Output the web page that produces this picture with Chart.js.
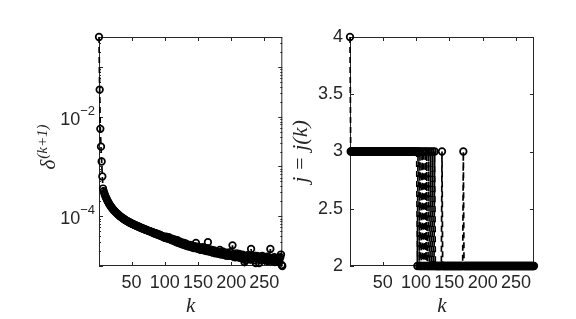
<!DOCTYPE html>
<html>
<head>
<meta charset="utf-8">
<script src="https://cdn.jsdelivr.net/npm/chart.js@4.4.0/dist/chart.umd.min.js"></script>
<style>
  html, body { margin: 0; padding: 0; background: #fff; }
  #wrap { position: relative; width: 576px; height: 319px; }
  .panel { position: absolute; top: 0; width: 288px; height: 319px; }
</style>
</head>
<body>
<div id="wrap">
  <div class="panel" style="left:0"><canvas id="deltaChart" width="288" height="319"></canvas></div>
  <div class="panel" style="left:288px"><canvas id="indexChart" width="288" height="319"></canvas></div>
</div>
<script>
// delta^(k+1) per iteration k = 1..277 (log scale)
const deltaValues = [
  0.4, 0.035, 0.0057, 0.0025, 0.00126, 6.3e-4, 3.6e-4, 3.2e-4, 2.9e-4, 2.65e-4,
  2.45e-4, 2.3e-4, 2.15e-4, 2.02e-4, 1.9e-4, 1.8e-4, 1.71e-4, 1.63e-4, 1.56e-4, 1.5e-4,
  1.44e-4, 1.38e-4, 1.33e-4, 1.29e-4, 1.25e-4, 1.21e-4, 1.17e-4, 1.14e-4, 1.11e-4, 1.08e-4,
  1.05e-4, 1.02e-4, 9.95e-5, 9.7e-5, 9.5e-5, 9.3e-5, 9.1e-5, 8.9e-5, 8.7e-5, 8.5e-5,
  8.35e-5, 8.2e-5, 8.05e-5, 7.9e-5, 7.8e-5, 7.65e-5, 7.5e-5, 7.4e-5, 7.3e-5, 7.15e-5,
  7.05e-5, 6.95e-5, 6.85e-5, 6.75e-5, 6.65e-5, 6.55e-5, 6.5e-5, 6.4e-5, 6.3e-5, 6.2e-5,
  6.15e-5, 6.05e-5, 5.95e-5, 5.9e-5, 5.8e-5, 5.75e-5, 5.65e-5, 5.6e-5, 5.5e-5, 5.45e-5,
  5.4e-5, 5.3e-5, 5.3e-5, 5.2e-5, 5.1e-5, 5.1e-5, 5.0e-5, 4.95e-5, 4.9e-5, 4.85e-5,
  4.75e-5, 4.8e-5, 4.6e-5, 4.65e-5, 4.5e-5, 4.55e-5, 4.4e-5, 4.45e-5, 4.3e-5, 4.35e-5,
  4.2e-5, 4.25e-5, 4.1e-5, 4.15e-5, 4.0e-5, 3.95e-5, 4.0e-5, 3.8e-5, 3.85e-5, 3.7e-5,
  3.75e-5, 3.9e-5, 3.6e-5, 3.7e-5, 3.55e-5, 3.8e-5, 3.5e-5, 3.45e-5, 3.6e-5, 3.4e-5,
  3.3e-5, 3.5e-5, 3.25e-5, 3.2e-5, 3.4e-5, 3.1e-5, 3.15e-5, 3.0e-5, 3.3e-5, 2.95e-5,
  3.0e-5, 2.9e-5, 3.1e-5, 2.8e-5, 2.85e-5, 2.95e-5, 2.7e-5, 2.75e-5, 2.9e-5, 2.65e-5,
  2.6e-5, 2.8e-5, 2.55e-5, 2.7e-5, 2.5e-5, 2.6e-5, 2.45e-5, 2.65e-5, 2.5e-5, 2.4e-5,
  2.55e-5, 2.35e-5, 2.45e-5, 2.3e-5, 2.5e-5, 2.4e-5, 2.9e-5, 2.3e-5, 2.25e-5, 2.45e-5,
  2.2e-5, 2.35e-5, 2.15e-5, 2.3e-5, 2.1e-5, 2.25e-5, 2.4e-5, 2.1e-5, 2.2e-5, 2.05e-5,
  2.3e-5, 2.1e-5, 2.0e-5, 2.2e-5, 3.0e-5, 2.05e-5, 1.95e-5, 2.15e-5, 2.0e-5, 1.9e-5,
  2.1e-5, 1.95e-5, 1.85e-5, 2.05e-5, 1.9e-5, 1.8e-5, 2.0e-5, 1.85e-5, 1.95e-5, 1.8e-5,
  1.75e-5, 1.9e-5, 2.1e-5, 1.8e-5, 1.7e-5, 1.85e-5, 1.75e-5, 1.95e-5, 1.7e-5, 1.65e-5,
  1.8e-5, 1.7e-5, 1.6e-5, 1.85e-5, 1.65e-5, 1.75e-5, 1.6e-5, 1.7e-5, 1.9e-5, 1.6e-5,
  1.7e-5, 2.6e-5, 1.55e-5, 1.75e-5, 1.6e-5, 1.5e-5, 1.7e-5, 1.8e-5, 1.55e-5, 1.65e-5,
  1.5e-5, 1.75e-5, 1.6e-5, 1.45e-5, 1.65e-5, 1.55e-5, 1.7e-5, 1.5e-5, 1.4e-5, 1.2e-5,
  1.6e-5, 1.3e-5, 1.5e-5, 1.45e-5, 1.65e-5, 1.4e-5, 1.55e-5, 1.5e-5, 1.35e-5, 2.2e-5,
  1.5e-5, 1.4e-5, 1.6e-5, 1.45e-5, 1.3e-5, 1.55e-5, 1.15e-5, 1.45e-5, 1.6e-5, 1.35e-5,
  1.5e-5, 1.15e-5, 1.4e-5, 1.55e-5, 1.3e-5, 1.45e-5, 1.6e-5, 1.35e-5, 1.4e-5, 1.5e-5,
  1.3e-5, 1.45e-5, 1.35e-5, 1.55e-5, 1.25e-5, 1.4e-5, 1.5e-5, 1.3e-5, 2.2e-5, 1.4e-5,
  1.35e-5, 1.25e-5, 1.45e-5, 1.3e-5, 1.5e-5, 1.2e-5, 1.4e-5, 1.35e-5, 1.25e-5, 1.45e-5,
  1.3e-5, 1.2e-5, 1.4e-5, 1.5e-5, 1.7e-5, 1.05e-5, 1.0e-5
];

// j = j(k) per iteration k = 1..277 (right panel)
const indexValues = [
  4, 3, 3, 3, 3, 3, 3, 3, 3, 3, 3, 3, 3, 3, 3, 3, 3, 3, 3, 3,
  3, 3, 3, 3, 3, 3, 3, 3, 3, 3, 3, 3, 3, 3, 3, 3, 3, 3, 3, 3,
  3, 3, 3, 3, 3, 3, 3, 3, 3, 3, 3, 3, 3, 3, 3, 3, 3, 3, 3, 3,
  3, 3, 3, 3, 3, 3, 3, 3, 3, 3, 3, 3, 3, 3, 3, 3, 3, 3, 3, 3,
  3, 3, 3, 3, 3, 3, 3, 3, 3, 3, 3, 3, 3, 3, 3, 3, 3, 3, 3, 3,
  3, 2, 3, 3, 2, 3, 2, 2, 3, 2, 3, 2, 2, 3, 2, 3, 2, 2, 3, 2,
  2, 3, 2, 2, 3, 2, 2, 3, 2, 2, 2, 2, 2, 2, 2, 2, 2, 2, 3, 2,
  2, 2, 2, 2, 2, 2, 2, 2, 2, 2, 2, 2, 2, 2, 2, 2, 2, 2, 2, 2,
  2, 2, 2, 2, 2, 2, 2, 2, 2, 2, 3, 2, 2, 2, 2, 2, 2, 2, 2, 2,
  2, 2, 2, 2, 2, 2, 2, 2, 2, 2, 2, 2, 2, 2, 2, 2, 2, 2, 2, 2,
  2, 2, 2, 2, 2, 2, 2, 2, 2, 2, 2, 2, 2, 2, 2, 2, 2, 2, 2, 2,
  2, 2, 2, 2, 2, 2, 2, 2, 2, 2, 2, 2, 2, 2, 2, 2, 2, 2, 2, 2,
  2, 2, 2, 2, 2, 2, 2, 2, 2, 2, 2, 2, 2, 2, 2, 2, 2, 2, 2, 2,
  2, 2, 2, 2, 2, 2, 2, 2, 2, 2, 2, 2, 2, 2, 2, 2, 2
];

const kTicks = [50, 100, 150, 200, 250];
const deltaTickValues = [1e-4, 1e-2];
const deltaTickExponents = ['\u22124', '\u22122'];
const deltaDecades = [1e-5, 1e-4, 1e-3, 1e-2, 1e-1];
const indexTicks = [2, 2.5, 3, 3.5, 4];
const indexTickLabels = ['2', '2.5', '3', '3.5', '4'];

const axisColor = '#262626';
const sansFont = "'Liberation Sans', Arial, Helvetica, sans-serif";
const serifFont = "'Liberation Serif', 'Times New Roman', serif";
const tickFont = { family: sansFont, size: 18 };

// box around the plot area with inward ticks, MATLAB style
const axesBox = {
    id: 'axesBox',
    beforeDatasetsDraw(chart, args, opts) {
        const { ctx, chartArea: a, scales } = chart;
        ctx.save();
        ctx.strokeStyle = axisColor;
        ctx.lineWidth = 1;
        ctx.strokeRect(a.left + 0.5, a.top + 0.5, a.right - a.left - 1, a.bottom - a.top - 1);
        ctx.beginPath();
        scales.x.ticks.forEach(t => {
            const px = Math.round(scales.x.getPixelForValue(t.value)) + 0.5;
            ctx.moveTo(px, a.bottom); ctx.lineTo(px, a.bottom - 4);
            ctx.moveTo(px, a.top); ctx.lineTo(px, a.top + 4);
        });
        scales.y.ticks.forEach(t => {
            const py = Math.round(scales.y.getPixelForValue(t.value)) + 0.5;
            ctx.moveTo(a.left, py); ctx.lineTo(a.left + 4, py);
            ctx.moveTo(a.right, py); ctx.lineTo(a.right - 4, py);
        });
        if (opts.logMinor) {
            deltaDecades.forEach(d => {
                for (let m = 2; m <= 9; m++) {
                    const v = d * m;
                    if (v > scales.y.max) break;
                    const py = Math.round(scales.y.getPixelForValue(v)) + 0.5;
                    ctx.moveTo(a.left, py); ctx.lineTo(a.left + 2, py);
                    ctx.moveTo(a.right, py); ctx.lineTo(a.right - 2, py);
                }
            });
        }
        ctx.stroke();
        ctx.restore();
    },
    afterDraw(chart, args, opts) {
        if (!opts.logLabels) return;
        const { ctx, chartArea: a, scales } = chart;
        ctx.save();
        ctx.fillStyle = axisColor;
        ctx.textBaseline = 'alphabetic';
        ctx.textAlign = 'left';
        // 10^n tick labels
        deltaTickValues.forEach((v, i) => {
            const py = scales.y.getPixelForValue(v);
            ctx.font = '18px ' + sansFont;
            const wBase = ctx.measureText('10').width;
            ctx.font = '13px ' + sansFont;
            const wSup = ctx.measureText(deltaTickExponents[i]).width;
            const x0 = a.left - 4 - wBase - wSup;
            ctx.font = '18px ' + sansFont;
            ctx.fillText('10', x0, py + 8);
            ctx.font = '13px ' + sansFont;
            ctx.fillText(deltaTickExponents[i], x0 + wBase, py - 2);
        });
        // y title: delta^(k+1)
        ctx.translate(55, 147);
        ctx.rotate(-Math.PI / 2);
        ctx.font = 'italic 21px ' + serifFont;
        const wd = ctx.measureText('\u03b4').width;
        ctx.font = 'italic 15px ' + serifFont;
        const ws = ctx.measureText('(k+1)').width;
        const start = -(wd + ws + 1) / 2;
        ctx.font = 'italic 21px ' + serifFont;
        ctx.fillText('\u03b4', start, 0);
        ctx.font = 'italic 15px ' + serifFont;
        ctx.fillText('(k+1)', start + wd + 1, -8);
        ctx.restore();
    }
};

function seriesLine(values) {
    return {
        data: values.map((v, i) => ({ x: i + 1, y: v })),
        borderColor: '#000',
        borderWidth: 1.7,
        borderDash: [6, 4],
        pointRadius: 3.3,
        pointBorderWidth: 1.7,
        pointBorderColor: '#000',
        pointBackgroundColor: 'rgba(0,0,0,0)',
        tension: 0,
        clip: false
    };
}

function xAxis() {
    return {
        type: 'linear', min: 1, max: 277,
        grid: { display: false, drawTicks: false },
        border: { display: false },
        afterBuildTicks: s => { s.ticks = kTicks.map(v => ({ value: v })); },
        afterFit: s => { s.height = 53; },
        ticks: { font: tickFont, color: axisColor, padding: 6, maxRotation: 0, autoSkip: false },
        title: { display: true, text: 'k', color: axisColor, font: { family: serifFont, size: 21, style: 'italic' }, padding: { top: 2, bottom: 0 } }
    };
}

new Chart(document.getElementById('deltaChart'), {
    type: 'line',
    data: { datasets: [seriesLine(deltaValues)] },
    options: {
        responsive: false,
        animation: false,
        layout: { padding: { left: 59, right: 5, top: 37, bottom: 0 } },
        plugins: { legend: { display: false }, tooltip: { enabled: false }, axesBox: { logMinor: true, logLabels: true } },
        scales: {
            x: xAxis(),
            y: {
                type: 'logarithmic', min: 1e-5, max: 0.4,
                grid: { display: false, drawTicks: false },
                border: { display: false },
                afterBuildTicks: s => { s.ticks = deltaDecades.map(v => ({ value: v })); },
                afterFit: s => { s.width = 40; },
                ticks: { display: false }
            }
        }
    },
    plugins: [axesBox]
});

new Chart(document.getElementById('indexChart'), {
    type: 'line',
    data: { datasets: [seriesLine(indexValues)] },
    options: {
        responsive: false,
        animation: false,
        layout: { padding: { left: 0, right: 42, top: 37, bottom: 0 } },
        plugins: { legend: { display: false }, tooltip: { enabled: false }, axesBox: {} },
        scales: {
            x: xAxis(),
            y: {
                type: 'linear', min: 2, max: 4,
                grid: { display: false, drawTicks: false },
                border: { display: false },
                afterBuildTicks: s => { s.ticks = indexTicks.map(v => ({ value: v })); },
                afterFit: s => { s.width = 62; },
                ticks: { font: tickFont, color: axisColor, padding: 7, callback: (v, i) => indexTickLabels[i] },
                title: { display: true, text: 'j = j(k)', color: axisColor, font: { family: serifFont, size: 22, style: 'italic' }, padding: { top: 0, bottom: 0 } }
            }
        }
    },
    plugins: [axesBox]
});
</script>
</body>
</html>
